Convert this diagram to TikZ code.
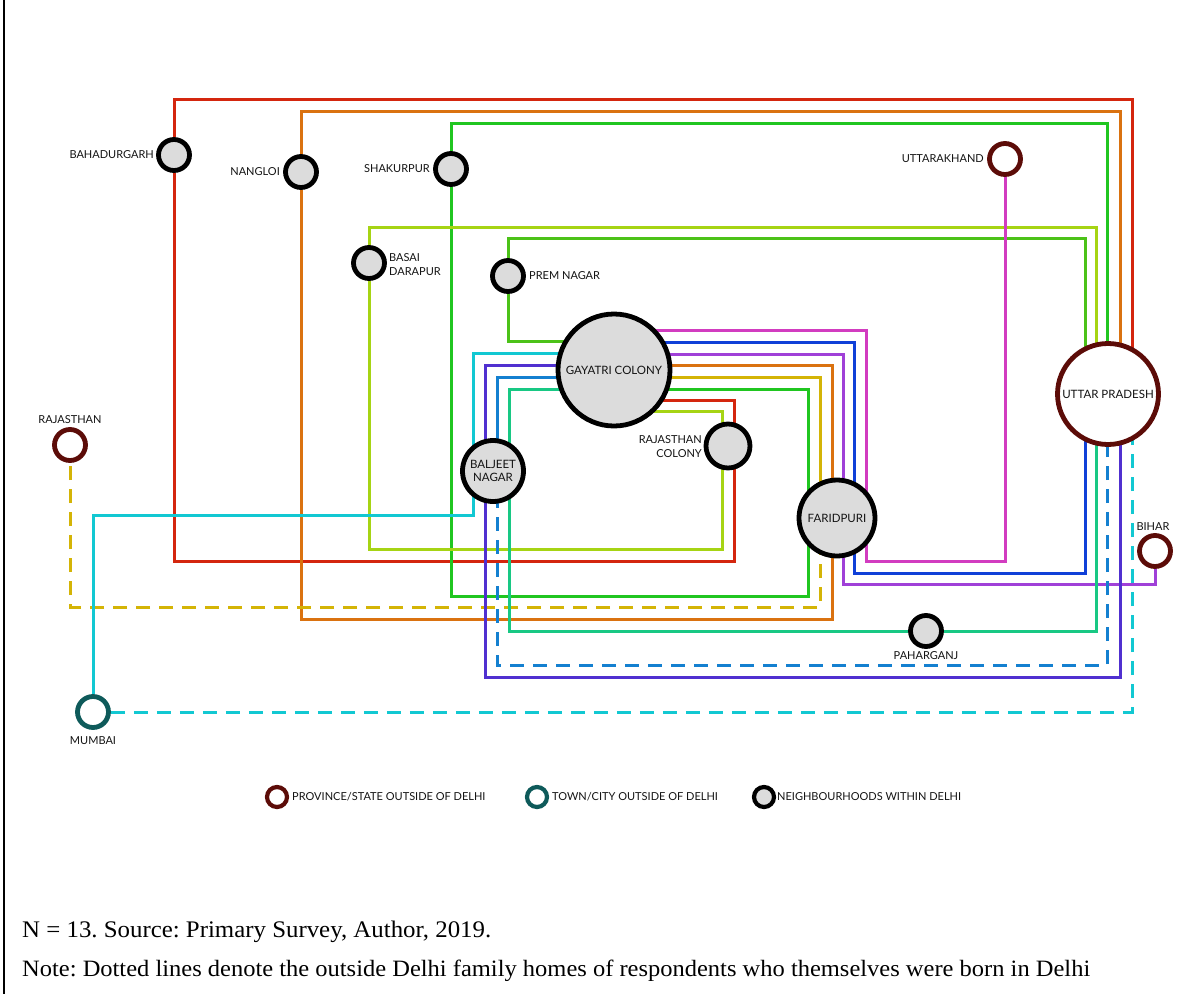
\documentclass[tikz,border=0pt]{standalone}
\usepackage{fontspec}
\setmainfont{Liberation Serif}
\setsansfont{Lato}
\usetikzlibrary{calc}
\pgfdeclarelayer{bg}
\pgfsetlayers{bg,main}
\definecolor{cR}{HTML}{D4260E}
\definecolor{cO}{HTML}{DA7210}
\definecolor{cG}{HTML}{20C620}
\definecolor{cYG}{HTML}{A6D414}
\definecolor{cPG}{HTML}{4CC218}
\definecolor{cM}{HTML}{D23CC0}
\definecolor{cB}{HTML}{1040D8}
\definecolor{cP}{HTML}{A040D8}
\definecolor{cMu}{HTML}{D4B406}
\definecolor{cLB}{HTML}{1480D0}
\definecolor{cI}{HTML}{5030D0}
\definecolor{cT}{HTML}{18C884}
\definecolor{cC}{HTML}{12C8D2}
\definecolor{statec}{HTML}{5C0C08}
\definecolor{cityc}{HTML}{0E5A5A}
\definecolor{nodefill}{HTML}{DCDCDC}
\definecolor{txt}{HTML}{141414}
\frenchspacing
\begin{document}
\begin{tikzpicture}[x=1pt,y=-1pt,
  nb/.style={circle, draw=black, line width=4.8pt, fill=nodefill, inner sep=0pt,
    font=\sffamily\fontsize{11.5}{13.5}\selectfont, text=txt, align=center},
  small/.style={nb, minimum size=31pt},
  state/.style={circle, draw=statec, line width=4.8pt, fill=white, minimum size=31pt,
    inner sep=0pt, font=\sffamily\fontsize{11.5}{13.5}\selectfont, text=txt},
  city/.style={state, draw=cityc},
  lab/.style={inner sep=0pt, font=\sffamily\fontsize{11}{14}\selectfont, text=txt},
  ln/.style={line width=3pt},
  dsh/.style={line width=3pt, dash pattern=on 14pt off 9pt}
]
\useasboundingbox (0,0) rectangle (1203,994);

% nodes
\node[small] (bah) at (174,155) {};
\node[small] (nan) at (301,172) {};
\node[small] (sha) at (451,169) {};
\node[state] (utk) at (1005,159) {};
\node[small] (bas) at (369,263) {};
\node[small] (prem) at (508,276) {};
\node[nb, minimum size=112pt] (gay) at (614,370) {GAYATRI COLONY};
\node[state, minimum size=101pt] (up) at (1108,394) {UTTAR PRADESH};
\node[nb, minimum size=44pt] (rjc) at (728,446) {};
\node[nb, minimum size=61pt] (bal) at (493,471) {BALJEET\\NAGAR};
\node[nb, minimum size=76pt] (far) at (837,518) {FARIDPURI};
\node[state] (raj) at (70,445) {};
\node[state] (bih) at (1155,551) {};
\node[small] (pah) at (926,631) {};
\node[city] (mum) at (93,712) {};

% labels
\node[lab, anchor=east] (lbah) at (154,155) {BAHADURGARH};
\node[lab, anchor=east] (lnan) at (280,172) {NANGLOI};
\node[lab, anchor=east] (lsha) at (430,169) {SHAKURPUR};
\node[lab, anchor=east] (lutk) at (984,159) {UTTARAKHAND};
\node[lab, anchor=west, align=left] (lbas) at (389,265) {BASAI\\DARAPUR};
\node[lab, anchor=west] (lprem) at (529,276) {PREM NAGAR};
\node[lab, anchor=east, align=right] (lrjc) at (702,447) {RAJASTHAN\\COLONY};
\node[lab] (lraj) at (70,420) {RAJASTHAN};
\node[lab] (lbih) at (1153,527) {BIHAR};
\node[lab] (lpah) at (926,656) {PAHARGANJ};
\node[lab] (lmum) at (93,741) {MUMBAI};

% legend
\node[state, minimum size=20pt, line width=4.2pt] (lg1) at (277,797) {};
\node[lab, anchor=west] (lt1) at (292,797) {PROVINCE/STATE OUTSIDE OF DELHI};
\node[city, minimum size=20pt, line width=4.2pt] (lg2) at (537,797) {};
\node[lab, anchor=west] (lt2) at (552,797) {TOWN/CITY OUTSIDE OF DELHI};
\node[nb, minimum size=20pt, line width=4.2pt] (lg3) at (764,797) {};
\node[lab, anchor=west] (lt3) at (777,797) {NEIGHBOURHOODS WITHIN DELHI};

% footer
\node[anchor=base west, inner sep=0pt] (f1) at (22,937)
  {\resizebox{469pt}{16.5pt}{N = 13. Source: Primary Survey, Author, 2019.}};
\node[anchor=base west, inner sep=0pt] (f2) at (22,976)
  {\resizebox{1068pt}{16.5pt}{Note: Dotted lines denote the outside Delhi family homes of respondents who themselves were born in Delhi}};

\begin{pgfonlayer}{bg}
\fill[white] (0,0) rectangle (1203,994);
\draw[line width=1.5pt] (4,0) -- (4,994);
% red: Bahadurgarh
\draw[ln, cR] (up -| 1132,0) -- (1132,99) -- (174,99) -- (bah) -- (174,561) -- (734,561) -- (734,400) -- (gay |- 0,400);
% orange: Nangloi
\draw[ln, cO] (up -| 1120,0) -- (1120,111) -- (301,111) -- (nan) -- (301,619) -- (832,619) -- (832,365) -- (gay |- 0,365);
% green: Shakurpur
\draw[ln, cG] (up -| 1107,0) -- (1107,123) -- (451,123) -- (sha) -- (451,596) -- (808,596) -- (808,389) -- (gay |- 0,389);
% yellow-green: Basai Darapur
\draw[ln, cYG] (up -| 1096,0) -- (1096,227) -- (369,227) -- (bas) -- (369,549) -- (722,549) -- (722,411) -- (gay |- 0,411);
% green: Prem Nagar
\draw[ln, cPG] (up -| 1085,0) -- (1085,238) -- (508,238) -- (prem) -- (508,341) -- (gay |- 0,341);
% magenta: Uttarakhand
\draw[ln, cM] (utk) -- (1005,561) -- (866,561) -- (866,330) -- (gay |- 0,330);
% blue
\draw[ln, cB] (gay |- 0,342) -- (854,342) -- (854,573) -- (1085,573) -- (up -| 1085,0);
% purple: Bihar
\draw[ln, cP] (gay |- 0,354) -- (843,354) -- (843,584) -- (1155,584) -- (bih);
% mustard: Rajasthan
\draw[ln, cMu] (gay |- 0,377) -- (820,377) -- (far -| 820,0);
\draw[dsh, cMu] (far -| 820,0) -- (820,607) -- (70,607) -- (raj);
% light blue
\draw[ln, cLB] (gay |- 0,377) -- (497,377) -- (bal -| 497,0);
\draw[dsh, cLB] (bal -| 497,0) -- (497,665) -- (1107,665) -- (up -| 1107,0);
% indigo
\draw[ln, cI] (gay |- 0,365) -- (485,365) -- (485,677) -- (1120,677) -- (up -| 1120,0);
% teal green: Paharganj
\draw[ln, cT] (gay |- 0,389) -- (509,389) -- (509,631) -- (pah) -- (1096,631) -- (up -| 1096,0);
% cyan: Mumbai
\draw[ln, cC] (gay |- 0,353) -- (473,353) -- (473,515) -- (93,515) -- (mum);
\draw[dsh, cC] (mum) -- (1132,712) -- (up -| 1132,0);
\end{pgfonlayer}
\end{tikzpicture}
\end{document}
